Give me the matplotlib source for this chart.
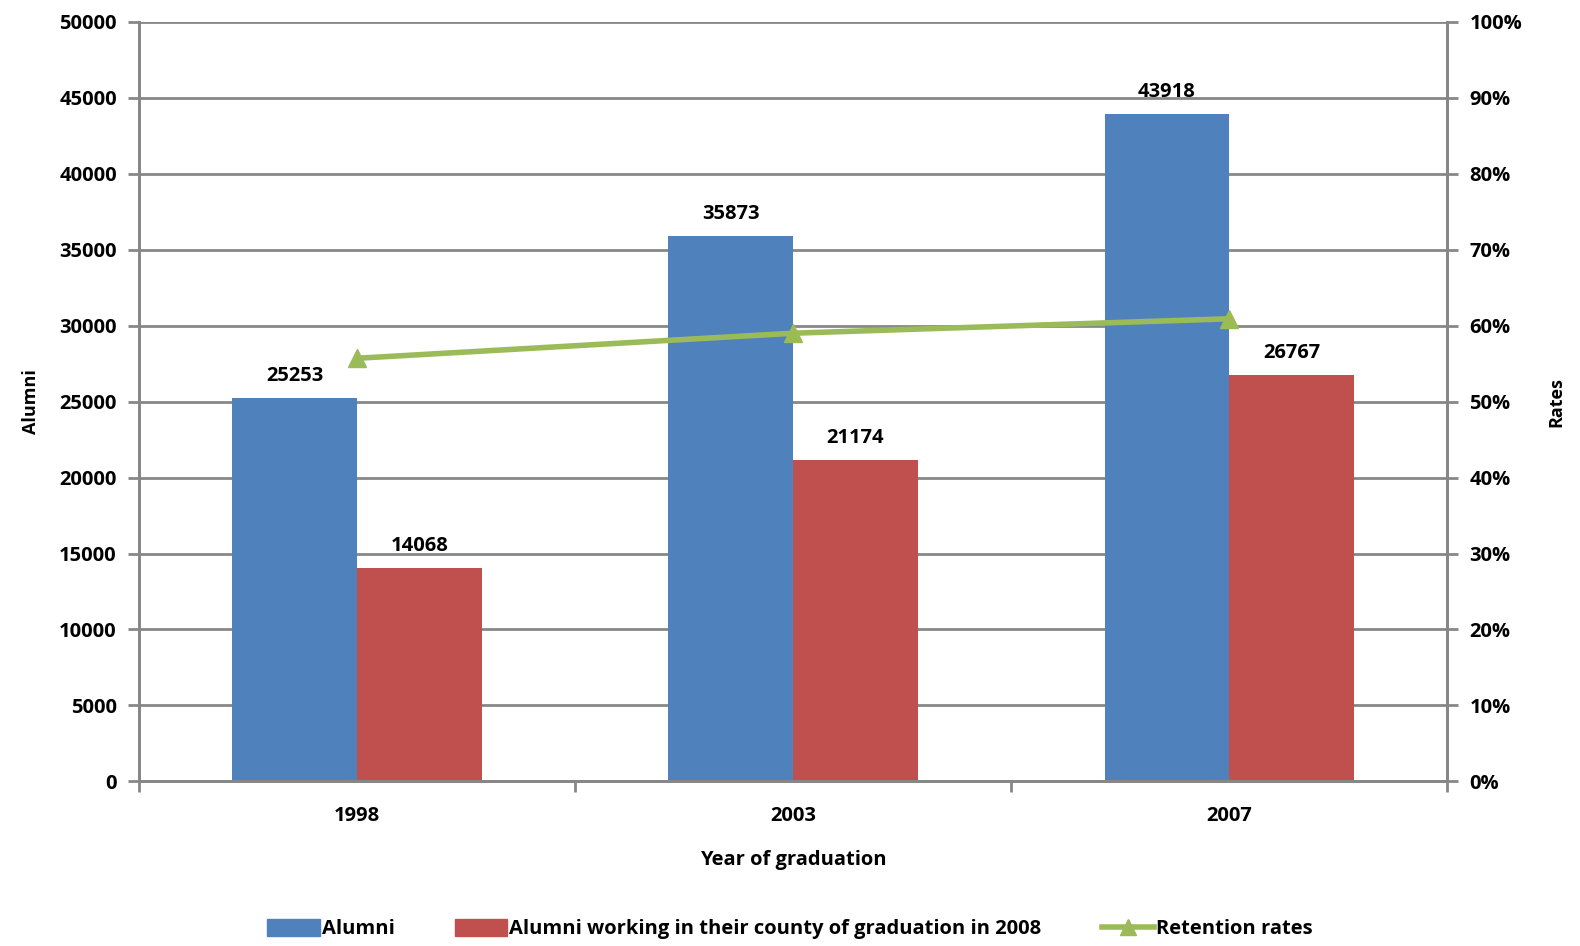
import numpy as np
import matplotlib.pyplot as plt
from matplotlib.patches import Patch
from matplotlib.lines import Line2D
from matplotlib.ticker import FuncFormatter

years = ["1998", "2003", "2007"]
alumni = [25253, 35873, 43918]
alumni_local = [14068, 21174, 26767]
retention = [0.557, 0.590, 0.609]

blue = "#4F81BD"
red = "#C0504D"
green = "#9BBB59"
grid_gray = "#878787"

plt.rcParams["font.family"] = ["Open Sans", "DejaVu Sans"]
plt.rcParams["font.weight"] = "bold"

fs = 14.5

fig = plt.figure(figsize=(15.8, 9.46), dpi=100)
ax = fig.add_axes([0.088, 0.174, 0.828, 0.803])
ax2 = ax.twinx()

x = np.arange(len(years))
w = 0.286
ax.bar(x - w / 2, alumni, w, color=blue, zorder=2)
ax.bar(x + w / 2, alumni_local, w, color=red, zorder=2)

for xi, v in zip(x, alumni):
    ax.text(xi - w / 2, v + 800, str(v), ha="center", va="bottom",
            fontsize=fs, fontweight="bold")
for xi, v in zip(x, alumni_local):
    ax.text(xi + w / 2, v + 800, str(v), ha="center", va="bottom",
            fontsize=fs, fontweight="bold")

ax2.plot(x, retention, color=green, lw=4, marker="^", markersize=13,
         zorder=3)

ax.set_xlim(-0.5, 2.5)
ax.set_ylim(0, 50000)
ax.set_yticks(np.arange(0, 50001, 5000))
ax2.set_ylim(0, 1)
ax2.set_yticks(np.arange(0, 1.01, 0.1))
ax2.yaxis.set_major_formatter(FuncFormatter(lambda v, p: f"{v * 100:.0f}%"))

ax.set_xticks([-0.5, 0.5, 1.5, 2.5])
ax.set_xticklabels([])
ax.set_xticks(x, minor=True)
ax.set_xticklabels(years, minor=True)
ax.tick_params(axis="x", which="minor", length=0, pad=18, labelsize=fs)
ax.tick_params(axis="x", which="major", length=8, width=2, color=grid_gray)
ax.tick_params(axis="y", length=8, width=2, color=grid_gray, labelsize=fs, pad=8)
ax2.tick_params(axis="y", length=8, width=2, color=grid_gray, labelsize=fs, pad=8)

ax.grid(axis="y", color=grid_gray, lw=2, zorder=0)
ax.set_axisbelow(True)
for a in (ax, ax2):
    for s in a.spines.values():
        s.set_color(grid_gray)
        s.set_linewidth(2)
    a.spines["top"].set_visible(False)

ax.set_xlabel("Year of graduation", fontsize=fs, fontweight="bold", labelpad=17)
ax.set_ylabel("Alumni", fontsize=13, fontweight="bold", labelpad=14)
ax2.set_ylabel("Rates", fontsize=13, fontweight="bold", labelpad=18)

handles = [
    Patch(color=blue, label="Alumni"),
    Patch(color=red, label="Alumni working in their county of graduation in 2008"),
    Line2D([0], [0], color=green, lw=4, marker="^", markersize=12,
           label="Retention rates"),
]
fig.legend(handles=handles, loc="lower center", bbox_to_anchor=(0.5, -0.012),
           ncol=3, frameon=False, fontsize=fs, handlelength=2.6,
           handleheight=0.9, handletextpad=0.1, columnspacing=3.0)

fig.savefig("out.png", dpi=100)
